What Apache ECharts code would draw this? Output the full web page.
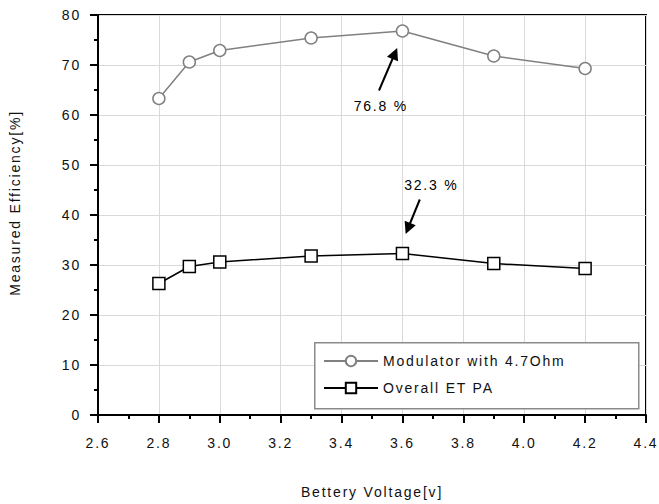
<!DOCTYPE html>
<html>
<head>
<meta charset="utf-8">
<script src="https://cdn.jsdelivr.net/npm/echarts@6/dist/echarts.min.js"></script>
<style>
  html, body { margin: 0; padding: 0; background: #fff; }
  #chart { width: 659px; height: 504px; }
  /* el original usa texto con espaciado amplio */
  #chart text { letter-spacing: 1.8px; }
</style>
</head>
<body>
<div id="chart"></div>
<script>
"use strict";

// ── Datos ────────────────────────────────────────────────────────────────
const voltages  = [2.8, 2.9, 3.0, 3.3, 3.6, 3.9, 4.2];
const modulator = [63.3, 70.6, 72.9, 75.4, 76.8, 71.8, 69.3];
const overallPA = [26.3, 29.7, 30.6, 31.8, 32.3, 30.3, 29.3];
const seriesNames = ["Modulator with 4.7Ohm", "Overall ET PA"];

// anotaciones: [texto, posición del texto, cola de flecha, punta de flecha]
const noteTop    = ["76.8 %", [3.529, 61.9], [3.523, 64.9], [3.575, 72.3]];
const noteBottom = ["32.3 %", [3.695, 46.1], [3.657, 43.1], [3.618, 37.3]];

const FONT = "'Liberation Sans', Arial, sans-serif";
const GRID_COLOR = "#d9d9d9";

function pairs(xs, ys) {
  return xs.map((x, i) => [x, ys[i]]);
}

function arrow(note) {
  return {
    silent: true,
    symbol: ["none", "triangle"],
    symbolSize: 12,
    itemStyle: { color: "#000" },
    lineStyle: { color: "#000", width: 2, type: "solid" },
    label: { show: false },
    emphasis: { disabled: true },
    data: [[{ coord: note[2] }, { coord: note[3] }]],
  };
}

function noteText(note) {
  return {
    silent: true,
    symbol: "rect",
    symbolSize: 1,
    itemStyle: { color: "rgba(0,0,0,0)", borderWidth: 0 },
    label: {
      show: true, position: "inside",
      fontFamily: FONT, fontSize: 14, color: "#000",
      formatter: note[0],
    },
    data: [{ coord: note[1] }],
  };
}

const el = document.getElementById("chart");
const chart = echarts.init(el, null, { renderer: "svg" });

chart.setOption({
  animation: false,
  backgroundColor: "#fff",
  grid: {
    left: 98, right: 13, top: 15, bottom: 84,
    show: true, borderColor: "#000", borderWidth: 2,
  },
  graphic: [{
    type: "rect", left: 314, top: 342, z: 3,
    shape: { width: 324, height: 66 },
    style: { fill: "#fff", stroke: "#8a8a8a", lineWidth: 1.5 },
  }],
  legend: {
    orient: "vertical", left: 318, top: 349, z: 5,
    itemWidth: 54, itemHeight: 13, itemGap: 13,
    textStyle: { fontFamily: FONT, fontSize: 14, color: "#111" },
    data: seriesNames,
  },
  xAxis: {
    type: "value", min: 2.6, max: 4.4, interval: 0.2,
    name: "Bettery Voltage[v]", nameLocation: "middle", nameGap: 70,
    nameTextStyle: { fontFamily: FONT, fontSize: 14, color: "#111" },
    axisLine: { lineStyle: { color: "#000", width: 2 } },
    axisTick: { show: true, inside: false, length: 8, lineStyle: { color: "#000", width: 2 } },
    minorTick: { show: true, splitNumber: 2, length: 4, lineStyle: { color: "#000", width: 2 } },
    axisLabel: {
      margin: 21, fontFamily: FONT, fontSize: 14, color: "#111",
      formatter: v => v.toFixed(1),
    },
    splitLine: { show: true, lineStyle: { color: GRID_COLOR, width: 1 } },
  },
  yAxis: {
    type: "value", min: 0, max: 80, interval: 10,
    name: "Measured Efficiency[%]", nameLocation: "middle", nameGap: 76,
    nameTextStyle: { fontFamily: FONT, fontSize: 14, color: "#111", padding: [0, 0, 0, 24] },
    axisLine: { show: true, lineStyle: { color: "#000", width: 2 } },
    axisTick: { show: true, inside: false, length: 8, lineStyle: { color: "#000", width: 2 } },
    minorTick: { show: true, splitNumber: 2, length: 4, lineStyle: { color: "#000", width: 2 } },
    axisLabel: { margin: 17, fontFamily: FONT, fontSize: 14, color: "#111" },
    splitLine: { show: true, lineStyle: { color: GRID_COLOR, width: 1 } },
  },
  series: [
    {
      name: seriesNames[0],
      type: "line",
      data: pairs(voltages, modulator),
      symbol: "circle", symbolSize: 12,
      lineStyle: { color: "#808080", width: 1.5 },
      itemStyle: { color: "#fff", borderColor: "#808080", borderWidth: 1.5 },
      markLine: arrow(noteTop),
      markPoint: noteText(noteTop),
      z: 3,
    },
    {
      name: seriesNames[1],
      type: "line",
      data: pairs(voltages, overallPA),
      symbol: "rect", symbolSize: 12,
      lineStyle: { color: "#000", width: 1.5 },
      itemStyle: { color: "#fff", borderColor: "#000", borderWidth: 1.5 },
      markLine: arrow(noteBottom),
      markPoint: noteText(noteBottom),
      z: 3,
    },
  ],
});

window.addEventListener("resize", () => chart.resize());
</script>
</body>
</html>
